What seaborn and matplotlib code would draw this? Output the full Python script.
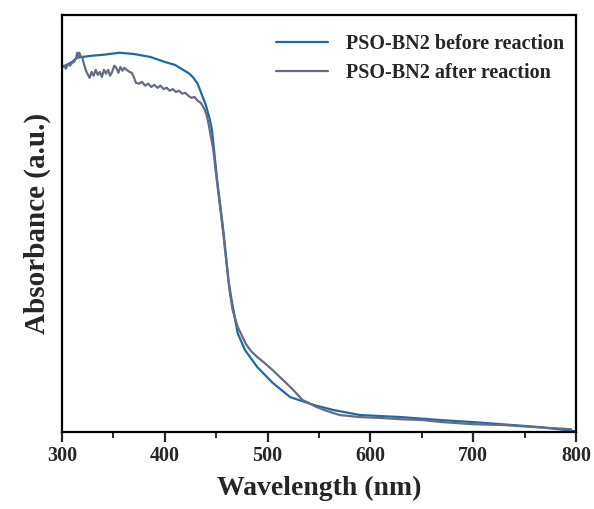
import numpy as np
import pandas as pd
import matplotlib
matplotlib.use("Agg")
import matplotlib.pyplot as plt
import seaborn as sns
from matplotlib.ticker import MultipleLocator

# Data (absorbance in arbitrary units)
before_nm = [300, 305, 310, 315, 320, 330, 340, 356, 370, 386, 400, 410, 418, 424, 428, 432,
             437, 440, 444, 446, 447, 449, 451, 454, 457, 459, 462, 465, 471, 478, 490, 505,
             522, 545, 564, 590, 630, 668, 700, 765, 800]
before_abs = [0.875, 0.880, 0.887, 0.897, 0.899, 0.902, 0.904, 0.909, 0.906, 0.899, 0.887,
              0.880, 0.868, 0.859, 0.849, 0.835, 0.803, 0.784, 0.748, 0.724, 0.700, 0.652,
              0.604, 0.544, 0.484, 0.436, 0.364, 0.317, 0.237, 0.197, 0.156, 0.118, 0.084,
              0.065, 0.053, 0.041, 0.036, 0.029, 0.024, 0.012, 0.002]

after_nm = [300, 302, 304, 306, 308, 310, 312, 314, 315, 316, 317, 318, 320, 322, 324, 327,
            329, 331, 333, 335, 337, 339, 341, 343, 345, 347, 349, 351, 353, 355, 357, 359,
            361, 363, 366, 368, 370, 372, 375, 378, 381, 384, 387, 390, 393, 396, 399, 402,
            405, 408, 411, 414, 417, 420, 423, 426, 429, 432, 435, 437, 439, 441, 443, 445,
            447, 449, 451, 454, 457, 460, 463, 466, 471, 474, 479, 484, 490, 496, 503, 512, 518,
            525, 534, 540, 546, 555, 570, 590, 610, 629, 650, 670, 700, 730, 760, 795]
after_abs = [0.873, 0.878, 0.871, 0.882, 0.878, 0.885, 0.887, 0.897, 0.909, 0.899, 0.909,
             0.902, 0.897, 0.878, 0.863, 0.849, 0.863, 0.854, 0.868, 0.856, 0.863, 0.851,
             0.868, 0.859, 0.868, 0.854, 0.863, 0.878, 0.873, 0.861, 0.875, 0.866, 0.873,
             0.868, 0.863, 0.861, 0.851, 0.837, 0.835, 0.839, 0.830, 0.835, 0.827, 0.832,
             0.825, 0.830, 0.822, 0.825, 0.818, 0.822, 0.815, 0.818, 0.811, 0.813, 0.806,
             0.801, 0.803, 0.794, 0.789, 0.782, 0.772, 0.758, 0.734, 0.707, 0.681, 0.640,
             0.597, 0.537, 0.475, 0.408, 0.341, 0.293, 0.252, 0.237, 0.211, 0.194, 0.180, 0.168,
             0.153, 0.132, 0.118, 0.101, 0.077, 0.070, 0.062, 0.053, 0.041, 0.036, 0.034,
             0.031, 0.029, 0.024, 0.019, 0.017, 0.012, 0.007]

labels = ["PSO-BN2 before reaction", "PSO-BN2 after reaction"]
colors = ["#1f6aa5", "#656c85"]
xticks = [300, 400, 500, 600, 700, 800]

df = pd.concat([
    pd.DataFrame({"nm": before_nm, "abs": before_abs, "sample": labels[0]}),
    pd.DataFrame({"nm": after_nm, "abs": after_abs, "sample": labels[1]}),
])

sns.set_style("ticks")
plt.rcParams["font.family"] = ["Liberation Serif", "DejaVu Serif"]
plt.rcParams["font.weight"] = "bold"

fig = plt.figure(figsize=(5.94, 5.09), dpi=100)
ax = fig.add_axes([0.104, 0.151, 0.866, 0.820])

sns.lineplot(data=df, x="nm", y="abs", hue="sample", palette=colors,
             hue_order=labels, linewidth=1.6, ax=ax, sort=False, estimator=None)

ax.set_xlim(300, 800)
ax.set_ylim(0, 1.0)
ax.set_xticks(xticks)
ax.set_xticklabels([str(t) for t in xticks], fontsize=14.5, fontweight="bold")
ax.xaxis.set_minor_locator(MultipleLocator(50))
ax.set_yticks([])
ax.tick_params(axis="x", which="major", direction="out", length=7, width=1.6, pad=3)
ax.tick_params(axis="x", which="minor", direction="out", length=4, width=1.4)
for s in ax.spines.values():
    s.set_visible(True)
    s.set_linewidth(1.6)
    s.set_color("black")

ax.set_xlabel("Wavelength (nm)", fontsize=20, fontweight="bold", labelpad=7)
ax.set_ylabel("Absorbance (a.u.)", fontsize=21, fontweight="bold", labelpad=8)

leg = ax.legend(loc="upper right", bbox_to_anchor=(1.012, 0.997), frameon=False,
                handlelength=2.6, labelspacing=0.42, handletextpad=0.9,
                prop={"weight": "bold", "size": 14.5})

fig.savefig("out.png", dpi=100)
